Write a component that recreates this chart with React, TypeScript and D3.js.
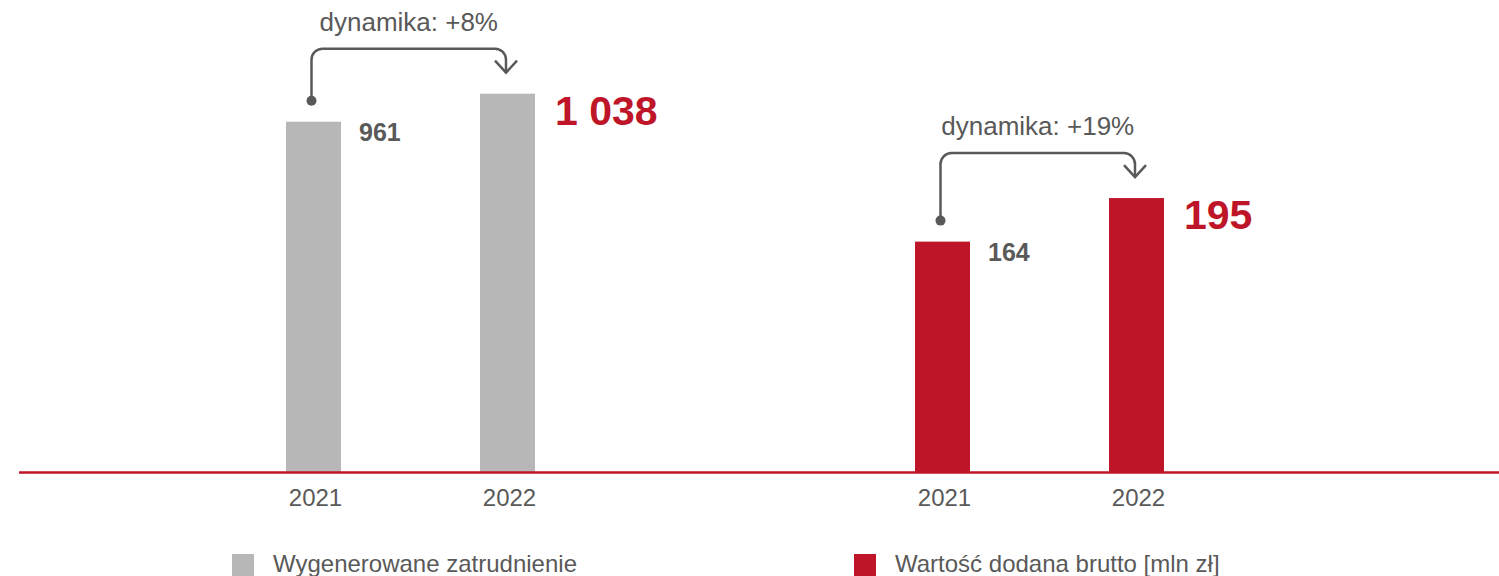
import React from "react";
import * as d3 from "d3";

// values
const groups = ["Wygenerowane zatrudnienie", "Wartość dodana brutto [mln zł]"];
const years = ["2021", "2022"];
const employment = [961, 1038];
const grossValue = [164, 195];
const growthLabels = ["dynamika: +8%", "dynamika: +19%"];

const W = 1499;
const H = 576;
const baseY = 472;
const FONT = "'Liberation Sans', Arial, sans-serif";
const GREY_TXT = "#595959";
const RED = "#be1528";
const barColors = ["#b7b7b7", RED];

const plFormat = d3.formatLocale({
  decimal: ",",
  thousands: " ",
  grouping: [3],
  currency: ["", " zł"],
}).format(",");

const App = () => {
  // outer band = one group per series, inner band = years
  const xGroup = d3.scaleBand().domain(groups).range([96, 1354]).padding(0);
  const step = 194;
  const bw = 55;
  const pi = 1 - bw / step;
  const po = (xGroup.bandwidth() / step - 2 + pi) / 2;
  const xYear = d3
    .scaleBand()
    .domain(years)
    .range([0, xGroup.bandwidth()])
    .paddingInner(pi)
    .paddingOuter(po);

  // each group has its own scale (different units)
  const yScales = [
    d3.scaleLinear().domain([0, 1295]).range([baseY, 0]),
    d3.scaleLinear().domain([0, 336]).range([baseY, 0]),
  ];
  const series = [employment, grossValue];

  return (
    <div style={{ position: "absolute", left: 0, top: 0 }}>
      <svg width={W} height={H} style={{ display: "block", background: "#fff" }}>
        {groups.map((g, gi) => {
          const gx = xGroup(g)!;
          const y = yScales[gi];
          const vals = series[gi];
          const cx = years.map((yr) => gx + xYear(yr)! + xYear.bandwidth() / 2);
          const tops = vals.map((v) => y(v));

          // connector from 2021 to 2022
          const x1 = cx[0] - 2;
          const x2 = cx[1] - 1.5;
          const dotY = tops[0] - 21;
          const hy = Math.min(tops[0], tops[1]) - 45;
          const tipY = tops[1] - 21;
          const r = 11;
          const p = d3.path();
          p.moveTo(x1, dotY);
          p.lineTo(x1, hy + r);
          p.arcTo(x1, hy, x1 + r, hy, r);
          p.lineTo(x2 - r, hy);
          p.arcTo(x2, hy, x2, hy + r, r);
          p.lineTo(x2, tipY);

          return (
            <g key={g}>
              {years.map((yr, i) => (
                <rect
                  key={yr}
                  x={gx + xYear(yr)!}
                  y={tops[i]}
                  width={xYear.bandwidth()}
                  height={baseY - tops[i]}
                  fill={barColors[gi]}
                />
              ))}
              {/* value labels */}
              <text
                x={gx + xYear(years[0])! + xYear.bandwidth() + 18}
                y={tops[0] + 19}
                fontFamily={FONT}
                fontWeight="bold"
                fontSize={25}
                fill={GREY_TXT}
              >
                {plFormat(vals[0])}
              </text>
              <text
                x={gx + xYear(years[1])! + xYear.bandwidth() + 20}
                y={tops[1] + 31}
                fontFamily={FONT}
                fontWeight="bold"
                fontSize={41}
                fill={RED}
              >
                {plFormat(vals[1])}
              </text>
              {/* x labels */}
              {years.map((yr, i) => (
                <text
                  key={"t" + yr}
                  x={cx[i] + 2}
                  y={506}
                  textAnchor="middle"
                  fontFamily={FONT}
                  fontSize={24}
                  fill={GREY_TXT}
                >
                  {yr}
                </text>
              ))}
              {/* growth arrow */}
              <path d={p.toString()} fill="none" stroke={GREY_TXT} strokeWidth={2.5} />
              <path
                d={`M${x2 - 11},${tipY - 12}L${x2},${tipY}L${x2 + 11},${tipY - 12}`}
                fill="none"
                stroke={GREY_TXT}
                strokeWidth={2.5}
              />
              <circle cx={x1} cy={dotY} r={5} fill={GREY_TXT} />
              <text
                x={(x1 + x2) / 2}
                y={hy - 18}
                textAnchor="middle"
                fontFamily={FONT}
                fontSize={26}
                fill={GREY_TXT}
              >
                {growthLabels[gi]}
              </text>
            </g>
          );
        })}

        <line x1={19} x2={W} y1={baseY + 0.5} y2={baseY + 0.5} stroke={RED} strokeWidth={2.5} />

        {/* legend */}
        {groups.map((g, gi) => {
          const lx = [232, 854][gi];
          return (
            <g key={"lg" + g}>
              <rect x={lx} y={554} width={22} height={22} fill={barColors[gi]} />
              <text x={lx + 41} y={572} fontFamily={FONT} fontSize={24} fill={GREY_TXT}>
                {g}
              </text>
            </g>
          );
        })}
      </svg>
    </div>
  );
};

export default App;
